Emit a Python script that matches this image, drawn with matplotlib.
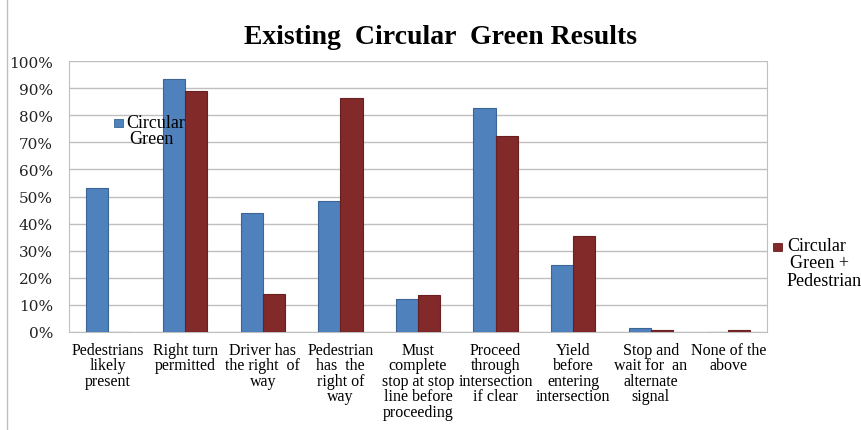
import matplotlib
matplotlib.use("Agg")
import matplotlib.pyplot as plt
import numpy as np
from matplotlib.patches import Rectangle

categories = ["Pedestrians\nlikely\npresent", "Right turn\npermitted", "Driver has\nthe right  of\nway",
              "Pedestrian\nhas  the\nright of\nway", "Must\ncomplete\nstop at stop\nline before\nproceeding",
              "Proceed\nthrough\nintersection\nif clear", "Yield\nbefore\nentering\nintersection",
              "Stop and\nwait for  an\nalternate\nsignal", "None of the\nabove"]
circular_green = [53.0, 93.4, 43.9, 48.5, 12.2, 82.7, 24.8, 1.5, 0.0]
circular_green_ped = [0.0, 88.8, 14.0, 86.2, 13.8, 72.4, 35.5, 0.8, 0.8]
yticks = [0, 10, 20, 30, 40, 50, 60, 70, 80, 90, 100]
ytick_labels = [f"{v}%" for v in yticks]

blue = "#4F81BD"
red = "#82292A"
serif = "Liberation Serif"

fig = plt.figure(figsize=(8.61, 4.31), dpi=100)
ax = fig.add_axes([69/861, 1-333/431, (767-69)/861, (333-62)/431])

x = np.arange(len(categories))
w = 0.285
ax.bar(x - w/2, circular_green, w, color=blue, edgecolor="#3A6595", linewidth=0.8, zorder=3)
ax.bar(x + w/2, circular_green_ped, w, color=red, edgecolor="#6A1F20", linewidth=0.8, zorder=3)

ax.set_xlim(-0.5, len(categories) - 0.5)
ax.set_ylim(0, 100)
ax.set_yticks(yticks)
ax.set_yticklabels(ytick_labels, fontsize=11, family="DejaVu Serif", color="#222222")
ax.yaxis.grid(True, color="#BFBFBF", linewidth=1.0, zorder=0)
ax.tick_params(axis="y", length=0, pad=11.5)
ax.set_xticks(x)
ax.set_xticklabels(categories, fontsize=11.5, family=serif, linespacing=0.96, va="top")
ax.tick_params(axis="x", length=0, pad=7)
ax.spines["top"].set_visible(False)
for s in ["left", "right", "bottom"]:
    ax.spines[s].set_color("#BFBFBF")

# legends
fig.patches.append(Rectangle((114/861, 1-128/431), 9/861, 8/431, transform=fig.transFigure,
                             facecolor=blue, edgecolor="#3A6595", lw=0.6))
fig.text(126/861, 1-124/431, "Circular", family=serif, fontsize=13, va="center", ha="left")
fig.text(129/861, 1-140/431, "Green", family=serif, fontsize=13, va="center", ha="left")
fig.patches.append(Rectangle((773/861, 1-252/431), 9/861, 8/431, transform=fig.transFigure,
                             facecolor=red, edgecolor="#6A1F20", lw=0.6))
fig.text(787/861, 1-247/431, "Circular", family=serif, fontsize=13, va="center", ha="left")
fig.text(790/861, 1-264/431, "Green +", family=serif, fontsize=13, va="center", ha="left")
fig.text(787/861, 1-281/431, "Pedestrian", family=serif, fontsize=13, va="center", ha="left")

fig.text(440/861, 1-37/431, "Existing  Circular  Green Results", family=serif, fontsize=20,
         fontweight="bold", ha="center", va="center")

# outer border line on left
fig.add_artist(plt.Line2D([7/861, 7/861], [0, 1], transform=fig.transFigure, color="#BFBFBF", lw=1))

fig.savefig("out.png", dpi=100)
